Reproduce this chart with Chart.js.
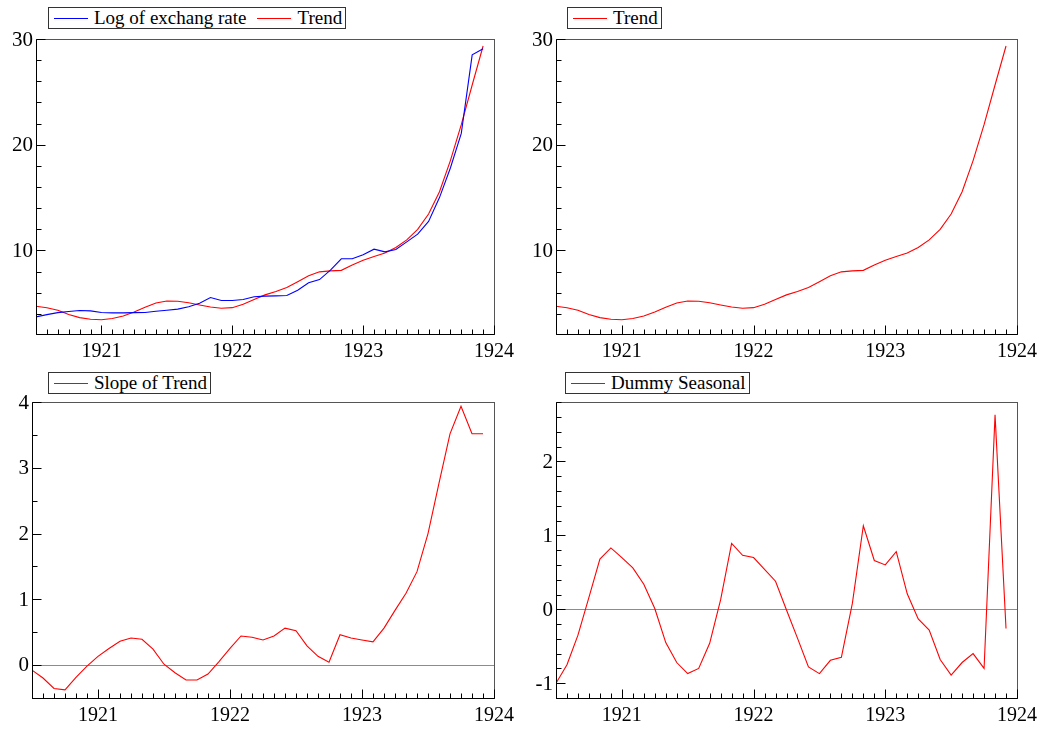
<!DOCTYPE html>
<html>
<head>
<meta charset="utf-8">
<script src="https://cdn.jsdelivr.net/npm/chart.js@4.4.1/dist/chart.umd.min.js"></script>
<style>
  body { margin: 0; background: #fff; width: 1046px; height: 731px; position: relative; overflow: hidden; font-family: 'Liberation Serif', serif; }
  canvas { position: absolute; }
  .legend { position: absolute; height: 22px; border: 1px solid #333; box-sizing: border-box; font-size: 19px; line-height: 20px; white-space: nowrap; padding: 0 3px 0 5px; background: #fff; }
  .legend .ln { display: inline-block; width: 34px; height: 0; border-top: 1px solid; vertical-align: middle; margin-right: 6px; position: relative; top: -1px; }
  .legend .item + .item { margin-left: 11px; }
</style>
</head>
<body>
<canvas id="c1"></canvas>
<canvas id="c2"></canvas>
<canvas id="c3"></canvas>
<canvas id="c4"></canvas>
<script>
// monthly observations, Jul 1920 - Dec 1923
const months = [
  '1920-07', '1920-08', '1920-09', '1920-10', '1920-11', '1920-12',
  '1921-01', '1921-02', '1921-03', '1921-04', '1921-05', '1921-06',
  '1921-07', '1921-08', '1921-09', '1921-10', '1921-11', '1921-12',
  '1922-01', '1922-02', '1922-03', '1922-04', '1922-05', '1922-06',
  '1922-07', '1922-08', '1922-09', '1922-10', '1922-11', '1922-12',
  '1923-01', '1923-02', '1923-03', '1923-04', '1923-05', '1923-06',
  '1923-07', '1923-08', '1923-09', '1923-10', '1923-11', '1923-12'
];

const exchangeRate = [
  3.72, 3.93, 4.12, 4.23, 4.32, 4.29,
  4.14, 4.10, 4.10, 4.12, 4.13, 4.25,
  4.35, 4.45, 4.67, 5.00, 5.55, 5.27,
  5.27, 5.36, 5.63, 5.68, 5.71, 5.74,
  6.24, 6.94, 7.25, 8.14, 9.21, 9.21,
  9.59, 10.12, 9.87, 10.09, 10.81, 11.54,
  12.75, 15.0, 17.8, 21.07, 28.5, 29.07
];

const trend = [
  4.73, 4.58, 4.35, 3.94, 3.65, 3.49,
  3.45, 3.56, 3.80, 4.18, 4.62, 5.03,
  5.22, 5.20, 5.05, 4.85, 4.66, 4.53,
  4.59, 4.92, 5.37, 5.80, 6.12, 6.50,
  7.05, 7.60, 7.98, 8.07, 8.12, 8.62,
  9.08, 9.42, 9.76, 10.28, 11.0, 12.0,
  13.45, 15.55, 18.5, 21.9, 25.65, 29.34
];

const slope = [
  -0.08, -0.20, -0.36, -0.38, -0.19, -0.02,
  0.13, 0.25, 0.36, 0.41, 0.39, 0.24,
  0.01, -0.12, -0.23, -0.23, -0.14, 0.05,
  0.25, 0.44, 0.42, 0.38, 0.44, 0.56,
  0.52, 0.29, 0.13, 0.04, 0.46, 0.41,
  0.38, 0.35, 0.56, 0.83, 1.09, 1.42,
  2.00, 2.77, 3.52, 3.94, 3.52, 3.52
];

const seasonal = [
  -1.00, -0.75, -0.35, 0.16, 0.68, 0.83,
  0.70, 0.56, 0.34, 0.01, -0.45, -0.72,
  -0.87, -0.80, -0.46, 0.13, 0.89, 0.73,
  0.70, 0.54, 0.38, -0.01, -0.39, -0.78,
  -0.87, -0.69, -0.65, 0.08, 1.13, 0.66,
  0.60, 0.78, 0.21, -0.13, -0.28, -0.68,
  -0.89, -0.72, -0.60, -0.80, 2.63, -0.26
];

const xTickYears = [1921, 1922, 1923, 1924];

const xValues = months.map(m => {
  const [yr, mo] = m.split('-').map(Number);
  return yr + (mo - 1) / 12;
});

Chart.defaults.font.family = "'Liberation Serif', serif";
Chart.defaults.font.size = 19;
Chart.defaults.color = '#000';

// box round the plot, inward tick marks, optional zero line
const framePlugin = {
  id: 'frame',
  beforeDatasetsDraw(chart, args, opts) {
    if (!opts.zero) return;
    const { ctx, chartArea: a, scales } = chart;
    const y0 = Math.round(scales.y.getPixelForValue(0)) + 0.5;
    ctx.save();
    ctx.strokeStyle = '#8c8c8c';
    ctx.lineWidth = 1;
    ctx.beginPath();
    ctx.moveTo(a.left, y0);
    ctx.lineTo(a.right, y0);
    ctx.stroke();
    ctx.restore();
  },
  afterDatasetsDraw(chart) {
    const { ctx, chartArea: a, scales } = chart;
    const L = Math.round(a.left) + 0.5, R = Math.round(a.right) + 0.5;
    const T = Math.round(a.top) + 0.5, B = Math.round(a.bottom) + 0.5;
    ctx.save();
    ctx.lineWidth = 1;
    ctx.strokeStyle = '#555';
    ctx.strokeRect(L, T, R - L, B - T);
    ctx.strokeStyle = '#000';
    ctx.beginPath();
    ctx.moveTo(L, T); ctx.lineTo(L, B); ctx.lineTo(R, B);
    scales.x.ticks.forEach(t => {
      const px = Math.round(scales.x.getPixelForValue(t.value)) + 0.5;
      const len = xTickYears.includes(t.value) ? 9 : 5;
      ctx.moveTo(px, B); ctx.lineTo(px, B - len);
    });
    scales.y.ticks.forEach(t => {
      const py = Math.round(scales.y.getPixelForValue(t.value)) + 0.5;
      const len = t.label !== '' ? 9 : 5;
      ctx.moveTo(L, py); ctx.lineTo(L + len, py);
    });
    ctx.stroke();
    ctx.restore();
  }
};

const panels = [
  { id: 'c1', left: 0, top: 0, w: 520, h: 365, area: { l: 36, t: 39, r: 498.5, b: 334 },
    yMin: 2.1, yMax: 30, step: 2, major: 10, zero: false, legend: { x: 48, y: 7 },
    series: [{ label: 'Log of exchang rate', data: exchangeRate, color: '#0000ff' },
             { label: 'Trend', data: trend, color: '#ff0000' }] },
  { id: 'c2', left: 520, top: 0, w: 526, h: 365, area: { l: 36, t: 39, r: 497, b: 334 },
    yMin: 2.1, yMax: 30, step: 2, major: 10, zero: false, legend: { x: 567, y: 7 },
    series: [{ label: 'Trend', data: trend, color: '#ff0000' }] },
  { id: 'c3', left: 0, top: 365, w: 520, h: 366, area: { l: 32, t: 37.3, r: 495.7, b: 332.7 },
    yMin: -0.5, yMax: 4, step: 0.5, major: 1, zero: true, legend: { x: 48, y: 372 },
    series: [{ label: 'Slope of Trend', data: slope, color: '#ff0000' }] },
  { id: 'c4', left: 520, top: 365, w: 526, h: 366, area: { l: 36, t: 37.3, r: 497, b: 333 },
    yMin: -1.2, yMax: 2.8, step: 0.2, major: 1, zero: true, legend: { x: 565, y: 372 },
    series: [{ label: 'Dummy Seasonal', data: seasonal, color: '#ff0000' }] }
];

panels.forEach(p => {
  const canvas = document.getElementById(p.id);
  canvas.width = p.w; canvas.height = p.h;
  canvas.style.left = p.left + 'px'; canvas.style.top = p.top + 'px';
  canvas.style.width = p.w + 'px'; canvas.style.height = p.h + 'px';

  new Chart(canvas, {
    type: 'line',
    data: {
      datasets: p.series.map(s => ({
        label: s.label,
        data: s.data.map((v, i) => ({ x: xValues[i], y: v })),
        borderColor: s.color,
        borderWidth: 1.1,
        pointRadius: 0,
        tension: 0,
        fill: false
      }))
    },
    options: {
      responsive: false,
      animation: false,
      devicePixelRatio: 1,
      layout: { padding: { left: 0, top: p.area.t, right: p.w - p.area.r, bottom: 0 } },
      plugins: {
        legend: { display: false },
        tooltip: { enabled: false },
        frame: { zero: p.zero }
      },
      scales: {
        x: {
          type: 'linear',
          min: 1920.5,
          max: 1924,
          grid: { display: false, drawTicks: false },
          border: { display: false },
          afterBuildTicks: s => {
            s.ticks = [];
            for (let k = 0; k <= 42; k++) s.ticks.push({ value: 1920.5 + k / 12 });
          },
          afterFit: s => { s.height = p.h - p.area.b; },
          ticks: {
            autoSkip: false,
            maxRotation: 0,
            padding: 6,
            font: { size: 20 },
            callback: v => xTickYears.includes(v) ? String(v) : ''
          }
        },
        y: {
          type: 'linear',
          min: p.yMin,
          max: p.yMax,
          grid: { display: false, drawTicks: false },
          border: { display: false },
          afterBuildTicks: s => {
            s.ticks = [];
            for (let k = Math.ceil(p.yMin / p.step - 1e-9); k * p.step <= p.yMax + 1e-9; k++) {
              s.ticks.push({ value: +(k * p.step).toFixed(6) });
            }
          },
          afterFit: s => { s.width = p.area.l; },
          ticks: {
            autoSkip: false,
            padding: 3,
            labelOffset: 1,
            font: { size: 21 },
            callback: v => {
              const r = v / p.major;
              return Math.abs(r - Math.round(r)) < 1e-6 ? String(Math.round(v)) : '';
            }
          }
        }
      }
    },
    plugins: [framePlugin]
  });

  // boxed legend above the plot
  const lg = document.createElement('div');
  lg.className = 'legend';
  lg.style.left = p.legend.x + 'px';
  lg.style.top = p.legend.y + 'px';
  p.series.forEach(s => {
    const item = document.createElement('span');
    item.className = 'item';
    item.innerHTML = `<span class="ln" style="border-color:${s.color}"></span>${s.label}`;
    lg.appendChild(item);
  });
  document.body.appendChild(lg);
});
</script>
</body>
</html>
